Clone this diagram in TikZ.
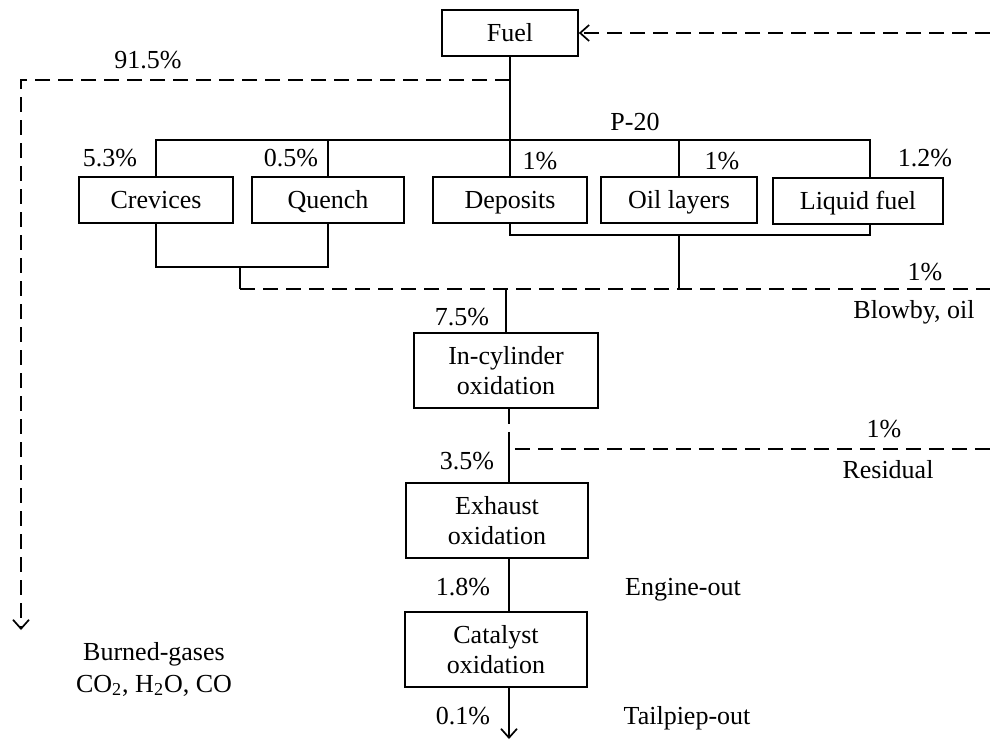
\documentclass[tikz,border=0pt]{standalone}
\usepackage{fontspec}
\setmainfont{Liberation Serif}
\usetikzlibrary{arrows.meta}
\begin{document}
\begin{tikzpicture}[x=0.5pt,y=-0.5pt,
  font=\fontsize{13}{15}\selectfont,
  line/.style={line width=0.85pt},
  dline/.style={line width=0.85pt, dash pattern=on 7.5pt off 4pt},
  tip/.style={-{Straight Barb[length=4.5pt,width=8pt,line width=0.85pt]}},
  box/.style={draw, line width=0.85pt, inner sep=0pt, align=center, minimum height=23pt, text height=10pt, text depth=2pt},
  tallbox/.style={draw, line width=0.85pt, inner sep=0pt, align=center, minimum height=37.5pt, minimum width=91pt},
  lbl/.style={inner sep=0pt, anchor=base}]
\useasboundingbox (0,0) rectangle (990,740);

% boxes
\node[box, minimum width=68pt] (Fuel) at (510,33) {Fuel};
\node[box, minimum width=77pt] (Crev) at (156,200) {Crevices};
\node[box, minimum width=76pt] (Quen) at (328,200) {Quench};
\node[box, minimum width=77pt] (Depo) at (510,200) {Deposits};
\node[box, minimum width=78pt] (Oil) at (679,200) {Oil layers};
\node[box, minimum width=85pt] (Liq) at (858,201) {Liquid fuel};
\node[tallbox, minimum width=92pt] (InCyl) at (506,370.5) {In-cylinder\\oxidation};
\node[tallbox] (Exh) at (497,520.5) {Exhaust\\oxidation};
\node[tallbox] (Cat) at (496,649.5) {Catalyst\\oxidation};

% coordinates
\coordinate (busR) at (870,140);
\coordinate (lowR) at (870,235);
\coordinate (cqY) at (0,267);
\coordinate (cqMid) at (240,267);
\coordinate (dashL) at (240,289);
\coordinate (dashR) at (990,289);
\coordinate (burnY) at (0,80);
\coordinate (burnL) at (21,80);
\coordinate (burnEnd) at (21,630);
\coordinate (recyc) at (990,33);
\coordinate (rs) at (509,449);
\coordinate (rsR) at (990,449);
\coordinate (rsTop) at (509,437);
\coordinate (outY) at (0,739);

% top distribution
\draw[line] (Fuel.south) -- (Depo.north);
\draw[line] (Crev.north) |- (busR) -- (busR |- Liq.north);
\draw[line] (Quen.north) -- (Quen.north |- busR);
\draw[line] (Oil.north) -- (Oil.north |- busR);

% burned gases branch
\draw[dline, tip] (Fuel.south |- burnY) -- (burnL) -- (burnEnd);
% recycle to fuel
\draw[dline, tip] (recyc) -- (Fuel.east);

% collection below boxes
\draw[line] (Crev.south) |- (Quen.south |- cqY) -- (Quen.south);
\draw[line] (cqMid) -- (dashL);
\draw[line] (Depo.south) |- (lowR) -- (lowR |- Liq.south);
\draw[line] (Oil.south |- lowR) -- (Oil.south |- dashR);
\draw[dline] (dashL) -- (dashR);
\draw[line] (InCyl.north |- dashR) -- (InCyl.north);

% residual
\draw[dline] (InCyl.south -| rs) -- (rs) -- (rsR);
\draw[line] (rsTop) -- (rsTop |- Exh.north);
\draw[line] (Exh.south -| rs) -- (Cat.north -| rs);
\draw[line, tip] (Cat.south -| rs) -- (rs |- outY);

% labels
\node[lbl] (t915) at (148,68) {91.5\%};
\node[lbl] (tP20) at (635,130) {P-20};
\node[lbl] (t53) at (110,166) {5.3\%};
\node[lbl] (t05) at (291,166) {0.5\%};
\node[lbl] (t1a) at (540,169) {1\%};
\node[lbl] (t1b) at (722,169) {1\%};
\node[lbl] (t12) at (925,166) {1.2\%};
\node[lbl] (t1c) at (925,280) {1\%};
\node[lbl] (tBlow) at (914,318) {Blowby, oil};
\node[lbl] (t75) at (462,325) {7.5\%};
\node[lbl] (t1d) at (884,437) {1\%};
\node[lbl] (tRes) at (888,478) {Residual};
\node[lbl] (t35) at (467,469) {3.5\%};
\node[lbl] (t18) at (463,595) {1.8\%};
\node[lbl] (tEng) at (683,595) {Engine-out};
\node[lbl] (t01) at (463,724) {0.1\%};
\node[lbl] (tTail) at (687,724) {Tailpiep-out};
\node[lbl] (tBurn) at (154,660) {Burned-gases};
\node[lbl] (tCO) at (154,692) {CO\textsubscript{2}, H\textsubscript{2}O, CO};
\end{tikzpicture}
\end{document}
